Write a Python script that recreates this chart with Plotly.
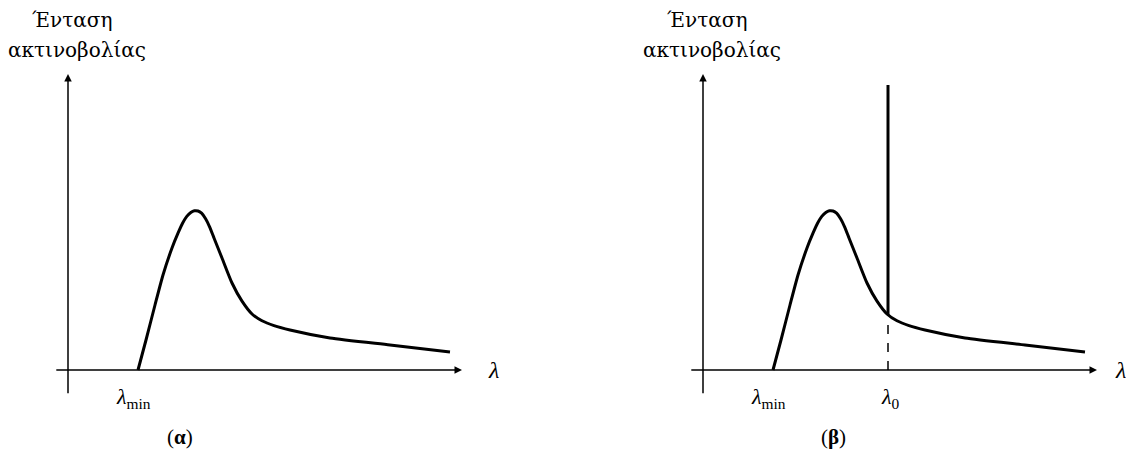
import plotly.graph_objects as go

# Spectrum curve (arbitrary units): wavelength and intensity
wavelength = [1.75, 1.95, 2.175, 2.375, 2.6, 2.75, 2.87, 2.97, 3.07, 3.16, 3.25, 3.34, 3.44,
              3.54, 3.65, 3.75, 3.85, 4.1, 4.35, 4.6, 4.85, 5.15, 5.55, 6.55, 8.05, 9.55]
intensity = [0.0, 0.75, 1.625, 2.375, 3.05, 3.42, 3.68, 3.84, 3.94, 3.98, 3.975, 3.92, 3.78,
             3.58, 3.3, 3.05, 2.8, 2.175, 1.72, 1.4, 1.23, 1.11, 1.0, 0.8, 0.625, 0.45]

lambda_min = 1.75
lambda_0 = 4.625
I0 = 1.38          # intensity of the continuous curve at lambda_0
line_top = 7.125
axis_x_end = 9.85
axis_y_end = 7.4
axis_neg = -0.33
y_title = ["Ένταση", "ακτινοβολίας"]
panel_labels = ["(<b>α</b>)", "(<b>β</b>)"]

fig = go.Figure()
FONT = "Liberation Serif"
TFONT = "DejaVu Serif"

for k, (xa, ya) in enumerate([("x", "y"), ("x2", "y2")]):
    fig.add_trace(go.Scatter(x=wavelength, y=intensity, mode="lines",
                             line=dict(color="black", width=3, shape="spline", smoothing=0.6),
                             xaxis=xa, yaxis=ya, hoverinfo="skip", showlegend=False))
    # axes arrows
    fig.add_annotation(x=axis_x_end, y=0, ax=axis_neg, ay=0, xref=xa, yref=ya,
                       axref=xa, ayref=ya, text="", showarrow=True, arrowhead=2,
                       arrowsize=1, arrowwidth=1.5, arrowcolor="black", standoff=0)
    fig.add_annotation(x=0, y=axis_y_end, ax=0, ay=-0.62, xref=xa, yref=ya,
                       axref=xa, ayref=ya, text="", showarrow=True, arrowhead=2,
                       arrowsize=1, arrowwidth=1.5, arrowcolor="black", standoff=0)
    fig.add_annotation(x=10.45 if k == 0 else 10.25, y=0, xref=xa, yref=ya, text="<i>λ</i>",
                       showarrow=False, xanchor="left", yanchor="middle",
                       font=dict(family=FONT, size=24, color="black"))
    fig.add_annotation(x=lambda_min - 0.12, y=-0.7, xref=xa, yref=ya,
                       text="<i>λ</i><sub>min</sub>", showarrow=False,
                       xanchor="center", yanchor="middle", font=dict(family=FONT, size=22, color="black"))
    fig.add_annotation(x=0.1, y=8.75, xref=xa, yref=ya, text=y_title[0], showarrow=False,
                       xanchor="center", yanchor="middle", font=dict(family=TFONT, size=20, color="black"))
    fig.add_annotation(x=0.22, y=8.0, xref=xa, yref=ya, text=y_title[1], showarrow=False,
                       xanchor="center", yanchor="middle", font=dict(family=TFONT, size=20, color="black"))
    fig.add_annotation(x=2.8 if k == 0 else 3.25, y=-1.67, xref=xa, yref=ya, text=panel_labels[k],
                       showarrow=False, xanchor="center", yanchor="middle",
                       font=dict(family=FONT, size=21, color="black"))

# characteristic line in panel beta
fig.add_trace(go.Scatter(x=[lambda_0, lambda_0], y=[I0, line_top], mode="lines",
                         line=dict(color="black", width=3), xaxis="x2", yaxis="y2",
                         hoverinfo="skip", showlegend=False))
fig.add_trace(go.Scatter(x=[lambda_0, lambda_0], y=[0, I0], mode="lines",
                         line=dict(color="black", width=1.5, dash="dash"), xaxis="x2", yaxis="y2",
                         hoverinfo="skip", showlegend=False))
fig.add_annotation(x=lambda_0 + 0.05, y=-0.7, xref="x2", yref="y2",
                   text="<i>λ</i><sub>0</sub>", showarrow=False,
                   xanchor="center", yanchor="middle", font=dict(family=FONT, size=22, color="black"))

ax_common = dict(visible=False, fixedrange=True)
fig.update_layout(
    width=1126, height=455, autosize=False,
    margin=dict(l=0, r=0, t=0, b=0),
    paper_bgcolor="white", plot_bgcolor="white",
    xaxis=dict(domain=[0, 0.5], range=[-1.5, 12.575], **ax_common),
    xaxis2=dict(domain=[0.5, 1], range=[-3.3, 10.775], **ax_common),
    yaxis=dict(domain=[0, 1], range=[-2.325, 9.05], **ax_common),
    yaxis2=dict(domain=[0, 1], range=[-2.325, 9.05], anchor="x2", **ax_common),
    showlegend=False,
)
fig.write_html("out.html")
